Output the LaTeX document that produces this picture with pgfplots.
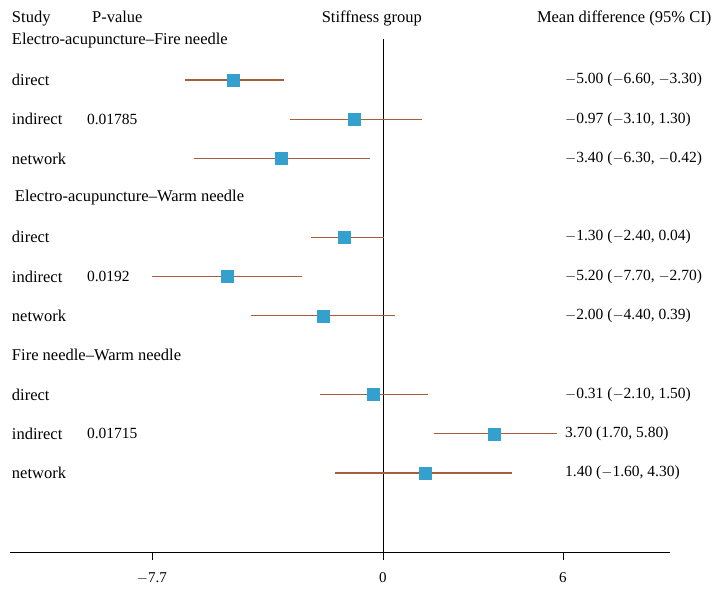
\documentclass[border=0pt]{standalone}
\usepackage{fontspec}
\setmainfont{Liberation Serif}
\usepackage{pgfplots}
\usepackage{pgfplotstable}
\pgfplotsset{compat=1.18}
\definecolor{cibrown}{RGB}{168,92,62}
\definecolor{mkblue}{RGB}{51,160,205}
\pgfplotstableread{
y    m      lo     hi
0   -5.00  -6.60  -3.30
-1  -0.97  -3.10   1.30
-2  -3.40  -6.30  -0.42
-4  -1.30  -2.40   0.04
-5  -5.20  -7.70  -2.70
-6  -2.00  -4.40   0.39
-8  -0.31  -2.10   1.50
-9   3.70   1.70   5.80
-10  1.40  -1.60   4.30
}\forest
\begin{document}
\begin{tikzpicture}[font=\fontsize{16.5bp}{18bp}\selectfont,
  lab/.style={anchor=west, inner sep=0pt},
  num/.style={anchor=west, inner sep=0pt, font=\fontsize{15.5bp}{17bp}\selectfont}]
\useasboundingbox (0,0) rectangle (716bp,590bp);
\begin{axis}[at={(10bp,38bp)}, anchor=south west, scale only axis,
  width=660bp, height=552bp,
  xmin=-12.43, xmax=9.57, ymin=-12.01, ymax=2.036,
  axis x line=bottom, axis y line=none,
  axis line style={-, line width=0.8pt},
  xtick={-7.7,0,6}, xticklabels={$-$7.7,0,6},
  xtick style={black, line width=0.6pt},
  tick align=outside, major tick length=8bp,
  x tick label style={font=\fontsize{15bp}{17bp}\selectfont, yshift=-9bp},
  /pgf/number format/assume math mode=true,
  clip=false]
\draw[line width=0.8pt] (axis cs:0,1.04) -- (axis cs:0,-12.01);
\addplot[draw=none, mark=square*, mark size=6bp, mark options={fill=mkblue, draw=mkblue},
  error bars/.cd, x dir=both, x explicit, error mark=none,
  error bar style={cibrown, line width=1.2pt}]
  table[x=m, y=y, x error plus expr=\thisrow{hi}-\thisrow{m}, x error minus expr=\thisrow{m}-\thisrow{lo}]{\forest};
% header
\node[anchor=base west, inner sep=0pt] at (axis cs:-12.37,1.47) {Study};
\node[anchor=base west, inner sep=0pt] at (axis cs:-9.7,1.47) {P-value};
\node[anchor=base, inner sep=0pt] at (axis cs:-0.37,1.47) {Stiffness group};
\node[anchor=base west, inner sep=0pt] at (axis cs:5.13,1.47) {Mean difference (95\% CI)};
% groups
\node[lab] at (axis cs:-12.37,1) {Electro-acupuncture--Fire needle};
\node[lab] at (axis cs:-12.27,-3) {Electro-acupuncture--Warm needle};
\node[lab] at (axis cs:-12.37,-7) {Fire needle--Warm needle};
% rows
\node[lab] at (axis cs:-12.37,0) {direct};
\node[lab] at (axis cs:-12.37,-4) {direct};
\node[lab] at (axis cs:-12.37,-8) {direct};
\node[lab] at (axis cs:-12.37,-1) {indirect};
\node[lab] at (axis cs:-12.37,-5) {indirect};
\node[lab] at (axis cs:-12.37,-9) {indirect};
\node[lab] at (axis cs:-12.37,-2) {network};
\node[lab] at (axis cs:-12.37,-6) {network};
\node[lab] at (axis cs:-12.37,-10) {network};
\node[num] at (axis cs:-9.87,-1) {0.01785};
\node[num] at (axis cs:-9.87,-5) {0.0192};
\node[num] at (axis cs:-9.87,-9) {0.01715};
\node[num] at (axis cs:6.07,0) {$-$5.00 ($-$6.60, $-$3.30)};
\node[num] at (axis cs:6.07,-1) {$-$0.97 ($-$3.10, 1.30)};
\node[num] at (axis cs:6.07,-2) {$-$3.40 ($-$6.30, $-$0.42)};
\node[num] at (axis cs:6.07,-4) {$-$1.30 ($-$2.40, 0.04)};
\node[num] at (axis cs:6.07,-5) {$-$5.20 ($-$7.70, $-$2.70)};
\node[num] at (axis cs:6.07,-6) {$-$2.00 ($-$4.40, 0.39)};
\node[num] at (axis cs:6.07,-8) {$-$0.31 ($-$2.10, 1.50)};
\node[num] at (axis cs:6.07,-9) {3.70 (1.70, 5.80)};
\node[num] at (axis cs:6.07,-10) {1.40 ($-$1.60, 4.30)};
\end{axis}
\end{tikzpicture}
\end{document}
